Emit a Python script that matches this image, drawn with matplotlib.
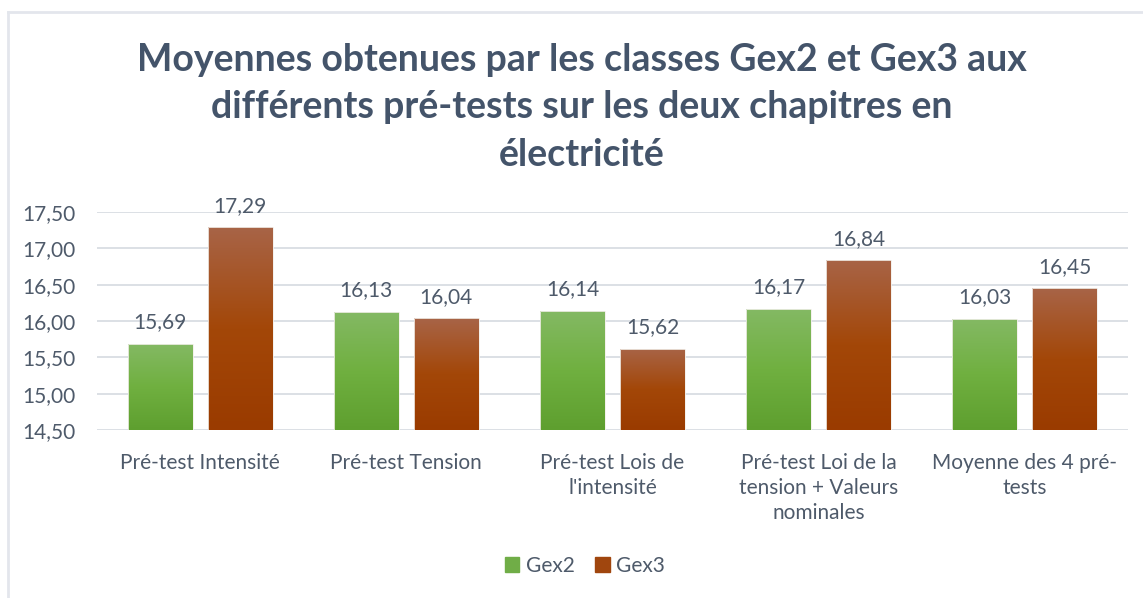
import matplotlib
matplotlib.use("Agg")
import matplotlib.pyplot as plt
import numpy as np
from matplotlib.colors import LinearSegmentedColormap
from matplotlib.patches import Rectangle

categories = ["Pré-test Intensité", "Pré-test Tension", "Pré-test Lois de\nl'intensité",
              "Pré-test Loi de la\ntension + Valeurs\nnominales", "Moyenne des 4 pré-\ntests"]
gex2 = [15.69, 16.13, 16.14, 16.17, 16.03]
gex3 = [17.29, 16.04, 15.62, 16.84, 16.45]
series_names = ["Gex2", "Gex3"]
yticks = [14.5, 15.0, 15.5, 16.0, 16.5, 17.0, 17.5]

plt.rcParams['font.family'] = ['Lato', 'DejaVu Sans']
text_color = "#4E5A6A"
title_color = "#44546A"

fig = plt.figure(figsize=(11.43, 5.98), dpi=100)
fig.patch.set_facecolor("white")

# chart border (left & top)
fig.add_artist(plt.Line2D([8/1143, 8/1143], [0, 1 - 12/598], color="#E3E6EC", lw=2))
fig.add_artist(plt.Line2D([8/1143, 1], [1 - 12/598, 1 - 12/598], color="#E3E6EC", lw=2))

ax = fig.add_axes([97/1143, (598-430)/598, (1128-97)/1143, (430-212)/598])
ax.set_xlim(-0.5, len(categories) - 0.5)
ax.set_ylim(14.5, 17.5)
ax.set_yticks(yticks)
ax.set_yticklabels([f"{v:.2f}".replace(".", ",") for v in yticks])
for s in ax.spines.values():
    s.set_visible(False)
ax.yaxis.grid(True, color="#D9DDE3", lw=1.3)
ax.set_axisbelow(True)
ax.tick_params(axis="both", length=0, labelsize=15, colors=text_color)
ax.tick_params(axis="y", pad=15.5)
ax.set_xticks(range(len(categories)))
ax.set_xticklabels(categories, linespacing=1.33, va="top")
ax.tick_params(axis="x", labelsize=15, pad=16.5)

green_cmap = LinearSegmentedColormap.from_list("g", ["#5E9F2F", "#70B040", "#84B964"])
brown_cmap = LinearSegmentedColormap.from_list("b", ["#9A3B00", "#A34708", "#A86447"])

w = 0.315
off = 0.194
x = np.arange(len(categories))
grad = np.linspace(0, 1, 256).reshape(-1, 1)
for vals, sign, cmap in [(gex2, -1, green_cmap), (gex3, 1, brown_cmap)]:
    bars = ax.bar(x + sign * off, np.array(vals) - 14.5, bottom=14.5, width=w,
                  color="none", edgecolor="#F2EFEA", lw=0.6, zorder=3)
    for b, v in zip(bars, vals):
        x0 = b.get_x()
        im = ax.imshow(grad, extent=[x0, x0 + w, 14.5, v], origin="lower",
                       cmap=cmap, aspect="auto", zorder=2, vmin=0, vmax=1)
        im.set_clip_path(b)
        ax.text(x0 + w / 2, v + 0.155, f"{v:.2f}".replace(".", ","), ha="center",
                va="bottom", fontsize=15, color=text_color)
ax.set_xlim(-0.5, len(categories) - 0.5)
ax.set_ylim(14.5, 17.5)

for txt, yc in [("Moyennes obtenues par les classes Gex2 et Gex3 aux", 60),
                ("différents pré-tests sur les deux chapitres en", 107),
                ("électricité", 155)]:
    fig.text(582/1143, 1 - yc/598, txt, ha="center", va="center", fontsize=27,
             fontweight="bold", color=title_color)

handles = [Rectangle((0, 0), 1, 1, color="#70AD47"), Rectangle((0, 0), 1, 1, color="#A0460E")]
fig.legend(handles, series_names, loc="center", bbox_to_anchor=(585/1143, 1 - 566/598), ncol=2,
           frameon=False, fontsize=15, labelcolor=text_color, handlelength=0.7,
           handleheight=0.7, handletextpad=0.3, columnspacing=1.0)

fig.savefig("out.png", dpi=100, facecolor="white")
